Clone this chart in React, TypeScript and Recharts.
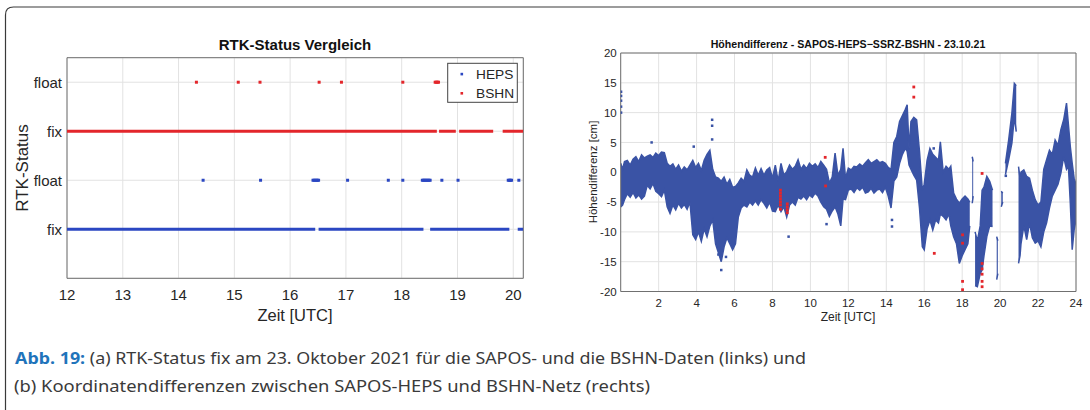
import React from 'react';
import {
  ComposedChart,
  Line,
  Scatter,
  Area,
  XAxis,
  YAxis,
  CartesianGrid,
  ReferenceArea,
} from 'recharts';

const FONT = '"Liberation Sans", Arial, Helvetica, sans-serif';
const BLUE = '#2b47c2';
const RED = '#e3262b';
const BAND = '#3a53a5';
const GRID = '#e2e2e2';
const BOX = '#707070';
const TXT = '#262626';

// ---------- Left chart: RTK-Status Vergleich ----------
const hourTicks = [12, 13, 14, 15, 16, 17, 18, 19, 20];
const statusTicks = [1, 2, 3, 4];
const statusLabels = ['fix', 'float', 'fix', 'float'];
const seriesNames = ['HEPS', 'BSHN'];

const hepsFixRuns = [
  [12, 16.45],
  [16.51, 18.39],
  [18.51, 19.93],
  [20.08, 20.18],
];
const bshnFixRuns = [
  [12, 18.63],
  [18.67, 18.97],
  [19.03, 19.64],
  [19.81, 20.18],
];
const hepsFloatTimes = [
  14.44, 15.47, 16.41, 16.43, 16.45, 16.47, 16.49, 16.51, 17.03, 17.76, 18.02,
  18.37, 18.39, 18.41, 18.43, 18.45, 18.47, 18.49, 18.51, 18.72, 19.01, 19.91,
  19.93, 19.95, 19.97, 20.1,
];
const bshnFloatTimes = [
  14.32, 15.07, 15.46, 16.52, 16.92, 18.02, 18.6, 18.62, 18.64, 18.66,
];

// ---------- Right chart: Höhendifferenz ----------
const diffHourTicks = [2, 4, 6, 8, 10, 12, 14, 16, 18, 20, 22, 24];
const diffCmTicks = [-20, -15, -10, -5, 0, 5, 10, 15, 20];

const bandTimes = [
  0.0, 0.1, 0.2, 0.35, 0.5, 0.65, 0.8, 0.95, 1.1, 1.25, 1.4, 1.55, 1.7, 1.85,
  2.0, 2.15, 2.3, 2.45, 2.6, 2.75, 2.9, 3.05, 3.2, 3.35, 3.5, 3.65, 3.8, 3.95,
  4.1, 4.25, 4.4, 4.55, 4.7, 4.85, 5.0, 5.15, 5.3, 5.45, 5.6, 5.75, 5.9, 6.05,
  6.2, 6.35, 6.5, 6.65, 6.8, 6.95, 7.1, 7.25, 7.4, 7.55, 7.7, 7.85, 8.0, 8.15,
  8.3, 8.45, 8.6, 8.75, 8.9, 9.05, 9.2, 9.35, 9.5, 9.65, 9.8, 9.95, 10.1, 10.25,
  10.4, 10.55, 10.7, 10.85, 11.0, 11.15, 11.3, 11.45, 11.6, 11.72, 11.85, 12.0,
  12.15, 12.3, 12.45, 12.6, 12.75, 12.9, 13.05, 13.2, 13.35, 13.5, 13.65, 13.8,
  13.95, 14.1, 14.25, 14.4, 14.55, 14.7, 14.85, 15.0, 15.1, 15.2, 15.3, 15.45,
  15.6, 15.75, 15.9, 16.0, 16.15, 16.3, 16.45, 16.6, 16.75, 16.85, 17.0, 17.15,
  17.3, 17.4, 17.55, 17.7, 17.85, 18.0, 18.15, 18.3, 18.4, 18.46, 18.53, 18.58,
  18.62, 18.68, 18.8, 18.95, 19.05, 19.15, 19.3, 19.45, 19.6, 19.7, 19.82, 19.88,
  19.94, 20.06, 20.14, 20.2, 20.28, 20.45, 20.62, 20.75, 20.85, 20.92, 20.97,
  21.05, 21.1, 21.25, 21.4, 21.55, 21.7, 21.85, 22.0, 22.15, 22.3, 22.45, 22.6,
  22.75, 22.9, 23.05, 23.2, 23.35, 23.5, 23.6, 23.7, 23.8, 23.9, 24.0,
];
const bandLows = [
  -5.8, -5.5, -4.6, -3.6, -4.2, -3.4, -4.3, -3.8, -4.5, -4.0, -2.2, -2.8, -1.9,
  -3.2, -3.6, -4.1, -3.0, -5.8, -6.9, -5.5, -6.3, -5.2, -6.0, -5.4, -6.2, -5.0,
  -10.5, -11.3, -10.0, -11.6, -9.5, -10.8, -9.0, -8.0, -12.0, -13.5, -15.0,
  -12.5, -11.0, -12.0, -13.0, -12.0, -7.5, -6.0, -5.5, -5.8, -5.0, -5.5, -4.8,
  -5.5, -4.6, -5.2, -6.0, -5.0, -6.5, -6.6, -5.5, -6.6, -5.8, -7.5, -5.5, -5.0,
  -5.5, -4.2, -4.5, -4.0, -4.6, -3.8, -4.2, -3.5, -4.0, -5.0, -5.8, -6.2, -7.4,
  -6.5, -5.8, -7.0, -9.0, -4.5, -4.6, -3.0, -2.8, -3.4, -2.6, -3.0, -2.5, -3.5,
  -3.3, -2.7, -3.5, -3.0, -2.8, -3.4, -2.5, -4.0, -6.0, -1.5, -0.8, 1.5, 3.0,
  4.0, 3.5, 1.2, 0.5, -0.5, -1.3, -6.0, -12.5, -13.0, -9.5, -8.0, -9.7, -8.0,
  -8.5, -7.0, -7.4, -8.0, -7.0, -9.0, -10.8, -12.0, -15.3, -14.0, -13.0, -12.0,
  -9.0, null, -5.2, -4.0, null, -19.0, -19.2, -17.0, -16.4, -14.0, -10.8, -9.0,
  -9.1, null, -18.0, -17.0, null, -5.8, -5.0, null, -0.4, 2.1, 4.9, 9.3, 6.8,
  null, -15.3, -14.0, -12.0, -9.0, -11.3, -8.5, -11.0, -11.9, -11.5, -12.5,
  -10.0, -8.5, -6.0, -4.0, -3.0, -2.0, -0.2, 2.6, 0.5, 1.0, -5.2, -13.0, -9.7,
  -8.0,
];
const bandHighs = [
  1.5, 0.5, 1.8, 2.0, 1.2, 2.2, 2.6, 1.8, 2.9, 2.4, 2.7, 2.9, 2.5, 3.2, 2.8,
  3.4, 3.3, 1.5, 1.0, 1.4, 0.5, 1.2, 0.2, 0.9, 0.4, 1.2, 2.0, 0.8, 1.5, 0.3, 2.0,
  3.0, 3.7, 0.5, -0.8, -1.0, -1.5, -0.8, -2.0, -1.2, -2.5, -2.4, -1.8, -1.0,
  -1.5, 0.4, -0.5, -0.8, 0.7, -0.5, 0.6, -0.5, 0.4, 0.8, -1.0, 1.2, -1.5, 1.5,
  -0.5, 0.1, 1.2, 0.5, 1.0, 2.1, 0.5, 1.2, 0.6, 1.5, 1.0, 1.4, 0.8, 1.8, 1.2,
  0.5, -1.8, -0.8, 3.2, -0.5, 0.5, 4.0, -1.0, 0.7, 0.4, 1.0, 0.9, 1.4, 1.0, 1.6,
  2.1, 1.5, 1.8, 2.1, 1.6, 1.8, 1.5, 0.8, 0.5, 5.0, 6.0, 8.5, 9.5, 10.5, 11.3,
  4.0, 8.5, 9.2, 8.8, 3.5, -3.0, -2.0, 2.0, 4.0, 3.0, 2.5, 2.0, 5.1, 0.0, 1.0,
  0.5, 1.0, -3.5, -4.5, -5.2, -4.5, -4.0, -4.5, -5.0, null, 2.6, 1.8, null,
  -10.0, -11.5, -9.0, -3.0, -2.5, -0.7, -1.5, -3.0, null, -10.8, -11.5, null,
  -3.2, -3.5, null, 1.5, 5.4, 9.9, 14.9, 14.5, null, 0.95, -1.0, 0.0, 0.4, -0.7,
  -1.0, -3.0, -4.6, -5.5, -5.0, 0.5, 2.1, 3.7, 3.0, 5.4, 4.5, 7.1, 8.8, 11.6,
  8.0, 4.3, 1.5, -1.0, -2.0,
];

const blueOutlierTimes = [
  0.02, 0.02, 0.02, 0.02, 0.02, 1.63, 3.85, 4.82, 4.82, 4.82, 5.3, 5.55, 5.15,
  8.85, 10.85, 14.3, 14.3, 16.5, 20.3,
];
const blueOutlierValues = [
  13.5, 12.8, 12.0, 11.0, 10.0, 5.0, 4.3, 8.8, 7.8, 5.5, -16.4, -14.2, -13.8,
  -10.8, -8.7, -9.1, -8.0, 4.0, -0.6,
];
const redTimes = [
  8.42, 8.42, 8.42, 8.42, 8.42, 8.42, 8.42, 8.78, 8.78, 8.78, 8.78, 10.78, 10.8,
  15.45, 15.45, 16.53, 18.02, 18.02, 18.02, 18.02, 19.05, 19.05, 19.05, 19.05,
  19.05, 19.05,
];
const redValues = [
  -3.0, -3.5, -4.0, -4.5, -5.0, -5.5, -6.2, -5.3, -5.8, -6.3, -6.8, 2.5, -2.3,
  14.3, 12.6, -13.6, -10.5, -11.9, -18.3, -19.7, -0.2, -15.3, -16.2, -17.1,
  -18.3, -19.2,
];

// ---------- tables built for the library ----------
function buildRuns(runs: number[][], level: number) {
  const pts: { x: number; y: number | null }[] = [];
  runs.forEach(([s, e], i) => {
    if (i > 0) pts.push({ x: (runs[i - 1][1] + s) / 2, y: null });
    pts.push({ x: s, y: level }, { x: e, y: level });
  });
  return pts;
}
const hepsFixData = buildRuns(hepsFixRuns, 1);
const bshnFixData = buildRuns(bshnFixRuns, 3);
const hepsFloatData = hepsFloatTimes.map((t) => ({ x: t, y: 2 }));
const bshnFloatData = bshnFloatTimes.map((t) => ({ x: t, y: 4 }));

const bandData = bandTimes.map((t, i) => ({
  t,
  range:
    bandLows[i] == null || bandHighs[i] == null
      ? null
      : [bandLows[i], bandHighs[i]],
}));
const blueOutliers = blueOutlierTimes.map((t, i) => ({ t, v: blueOutlierValues[i] }));
const redPoints = redTimes.map((t, i) => ({ t, v: redValues[i] }));

const sq = (color: string, s: number) => (p: any) =>
  p.cx == null ? <g /> : (
    <rect x={p.cx - s / 2} y={p.cy - s / 2} width={s} height={s} fill={color} />
  );

const LEFT_W = 540;
const LEFT_H = 330;
const RIGHT_W = 550;
const RIGHT_H = 330;

function LeftChart() {
  return (
    <ComposedChart
      width={LEFT_W}
      height={LEFT_H}
      margin={{ top: 57.7, right: LEFT_W - 523.3, bottom: LEFT_H - 278.3 - 30, left: 0 }}
    >
      <CartesianGrid stroke={GRID} strokeWidth={1} />
      <XAxis
        dataKey="x"
        type="number"
        domain={[12, 20.18]}
        ticks={hourTicks}
        allowDataOverflow
        height={30}
        tickLine={false}
        axisLine={false}
        tickSize={0}
        tickMargin={11}
        tick={{ fill: TXT, fontSize: 15, fontFamily: FONT }}
      />
      <YAxis
        type="number"
        domain={[0, 4.5]}
        ticks={statusTicks}
        tickFormatter={(v: number) => statusLabels[statusTicks.indexOf(v)]}
        width={67}
        tickLine={false}
        axisLine={false}
        tickSize={0}
        tickMargin={5}
        tick={{ fill: TXT, fontSize: 15, fontFamily: FONT }}
      />
      <Line
        data={hepsFixData}
        dataKey="y"
        stroke={BLUE}
        strokeWidth={3}
        dot={false}
        connectNulls={false}
        isAnimationActive={false}
      />
      <Line
        data={bshnFixData}
        dataKey="y"
        stroke={RED}
        strokeWidth={3}
        dot={false}
        connectNulls={false}
        isAnimationActive={false}
      />
      <Scatter data={hepsFloatData} dataKey="y" shape={sq(BLUE, 3)} isAnimationActive={false} />
      <Scatter data={bshnFloatData} dataKey="y" shape={sq(RED, 3)} isAnimationActive={false} />
      <ReferenceArea x1={12} x2={20.18} y1={0} y2={4.5} fill="none" fillOpacity={0} stroke={BOX} strokeWidth={1} />
    </ComposedChart>
  );
}

function RightChart() {
  return (
    <ComposedChart
      width={RIGHT_W}
      height={RIGHT_H}
      data={bandData}
      margin={{ top: 53, right: RIGHT_W - 536, bottom: RIGHT_H - 291.5 - 25, left: 0 }}
    >
      <CartesianGrid stroke={GRID} strokeWidth={1} />
      <XAxis
        dataKey="t"
        type="number"
        domain={[0, 24]}
        ticks={diffHourTicks}
        allowDataOverflow
        height={25}
        tickLine={false}
        axisLine={false}
        tickSize={0}
        tickMargin={7}
        tick={{ fill: TXT, fontSize: 11.5, fontFamily: FONT }}
      />
      <YAxis
        type="number"
        domain={[-20, 20]}
        ticks={diffCmTicks}
        allowDataOverflow
        width={80.7}
        tickLine={false}
        axisLine={false}
        tickSize={0}
        tickMargin={4}
        tick={{ fill: TXT, fontSize: 11.5, fontFamily: FONT }}
      />
      <Area
        dataKey="range"
        type="linear"
        stroke={BAND}
        strokeWidth={1.5}
        strokeLinejoin="miter"
        fill={BAND}
        fillOpacity={1}
        connectNulls={false}
        dot={false}
        activeDot={false}
        isAnimationActive={false}
      />
      <Scatter data={blueOutliers} dataKey="v" shape={sq(BAND, 2.5)} isAnimationActive={false} />
      <Scatter data={redPoints} dataKey="v" shape={sq(RED, 2.8)} isAnimationActive={false} />
      <ReferenceArea x1={0} x2={24} y1={-20} y2={20} fill="none" fillOpacity={0} stroke={BOX} strokeWidth={1} />
    </ComposedChart>
  );
}

export default function App() {
  return (
    <div
      style={{
        position: 'absolute',
        left: 0,
        top: 0,
        width: 1090,
        height: 410,
        background: '#ffffff',
        overflow: 'hidden',
      }}
    >
      <div style={{ position: 'absolute', left: 0, top: 0 }}>
        <LeftChart />
      </div>
      <div style={{ position: 'absolute', left: 540, top: 0 }}>
        <RightChart />
      </div>
      <svg
        width={1090}
        height={410}
        style={{ position: 'absolute', left: 0, top: 0, pointerEvents: 'none' }}
      >
        <path
          d="M 5.5 430 L 5.5 15 Q 5.5 7 13.5 7 L 1100 7"
          fill="none"
          stroke="#3a3a3a"
          strokeWidth={1.2}
        />
        {/* left chart texts */}
        <text x={295} y={49.5} textAnchor="middle" fontFamily={FONT} fontSize={15} fontWeight="bold" fill="#111">
          RTK-Status Vergleich
        </text>
        <text
          transform="translate(28,168) rotate(-90)"
          textAnchor="middle"
          fontFamily={FONT}
          fontSize={17}
          fill={TXT}
        >
          RTK-Status
        </text>
        <text x={295} y={320.8} textAnchor="middle" fontFamily={FONT} fontSize={16.5} fill={TXT}>
          Zeit [UTC]
        </text>
        {/* legend */}
        <rect x={447.7} y={63.3} width={69.6} height={39} fill="#ffffff" stroke="#444" strokeWidth={1} />
        <rect x={460.5} y={72.8} width={2.6} height={2.6} fill={BLUE} />
        <rect x={460.5} y={92} width={2.6} height={2.6} fill={RED} />
        <text x={476} y={78.8} fontFamily={FONT} fontSize={13.7} fill={TXT}>
          {seriesNames[0]}
        </text>
        <text x={476} y={98.1} fontFamily={FONT} fontSize={13.7} fill={TXT}>
          {seriesNames[1]}
        </text>
        {/* right chart texts */}
        <text x={848} y={47.5} textAnchor="middle" fontFamily={FONT} fontSize={10.6} fontWeight="bold" fill="#111">
          Höhendifferenz - SAPOS-HEPS−SSRZ-BSHN - 23.10.21
        </text>
        <text
          transform="translate(596.6,172) rotate(-90)"
          textAnchor="middle"
          fontFamily={FONT}
          fontSize={11.5}
          fill={TXT}
        >
          Höhendifferenz [cm]
        </text>
        <text x={848} y={321.2} textAnchor="middle" fontFamily={FONT} fontSize={12} fill={TXT}>
          Zeit [UTC]
        </text>
        {/* caption */}
        <text
          x={15}
          y={363.5}
          fontFamily='"Noto Sans", "Open Sans", sans-serif'
          fontSize={15.5}
          fill="#3a3a3a"
          textLength={791}
          lengthAdjust="spacingAndGlyphs"
        >
          <tspan fill="#1f74bb" fontWeight="bold">Abb. 19:</tspan>
          <tspan> (a) RTK-Status fix am 23. Oktober 2021 für die SAPOS- und die BSHN-Daten (links) und</tspan>
        </text>
        <text
          x={14}
          y={391.5}
          fontFamily='"Noto Sans", "Open Sans", sans-serif'
          fontSize={15.5}
          fill="#3a3a3a"
          textLength={636}
          lengthAdjust="spacingAndGlyphs"
        >
          (b) Koordinatendifferenzen zwischen SAPOS-HEPS und BSHN-Netz (rechts)
        </text>
      </svg>
    </div>
  );
}
